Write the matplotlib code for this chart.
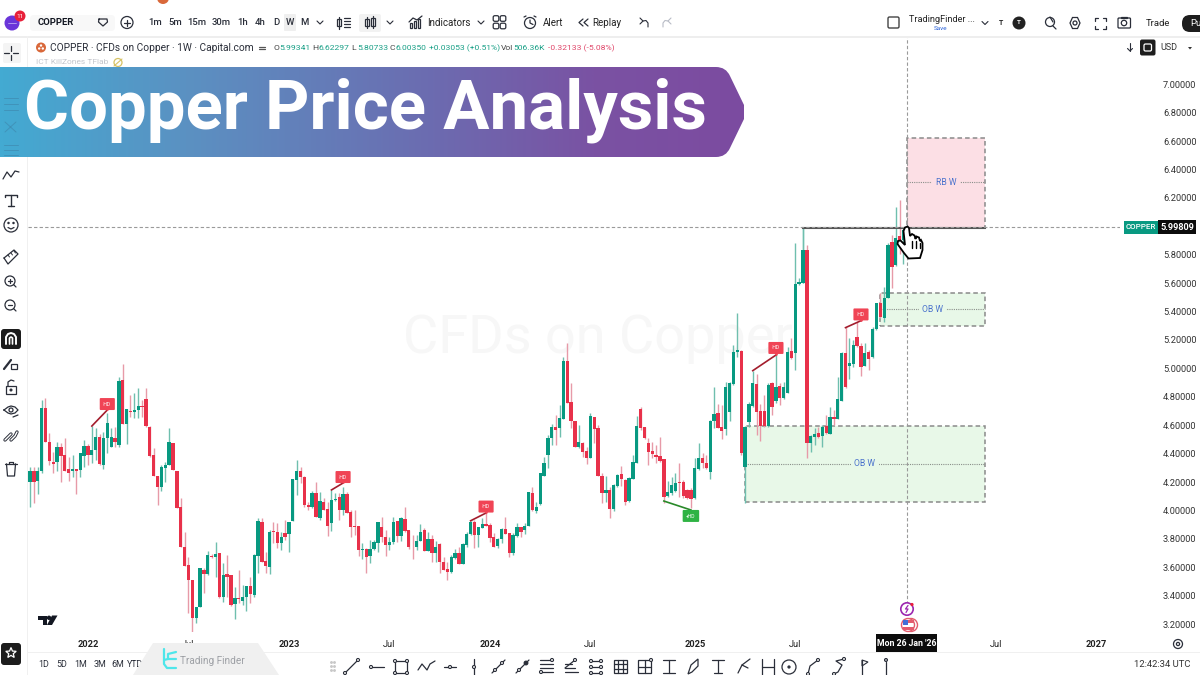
import numpy as np
import pandas as pd
import matplotlib
matplotlib.use("Agg")
import matplotlib.pyplot as plt
import matplotlib.dates as mdates
from matplotlib.patches import Rectangle, Circle, Polygon, PathPatch, FancyBboxPatch
from matplotlib.path import Path

plt.rcParams["font.family"] = ["Roboto", "DejaVu Sans"]

# weekly candles
opens = [
    4.203, 4.280, 4.208, 4.278, 4.724, 4.485, 4.344, 4.339, 4.449, 4.391,
    4.290, 4.280, 4.290, 4.285, 4.384, 4.454, 4.391, 4.426, 4.515, 4.320,
    4.508, 4.449, 4.510, 4.461, 4.919, 4.609, 4.703, 4.691, 4.708, 4.738,
    4.783, 4.590, 4.391, 4.243, 4.163, 4.297, 4.320, 4.478, 4.280, 4.027,
    3.745, 3.619, 3.511, 3.243, 3.323, 3.581, 3.553, 3.682, 3.670, 3.698,
    3.389, 3.553, 3.546, 3.342, 3.381, 3.365, 3.393, 3.468, 3.405, 3.682,
    3.921, 3.644, 3.600, 3.856, 3.851, 3.769, 3.844, 3.834, 3.926, 4.215,
    4.280, 4.238, 4.041, 4.027, 4.121, 3.945, 4.062, 4.010, 3.910, 4.074,
    4.093, 4.003, 4.114, 3.992, 3.893, 3.891, 3.722, 3.729, 3.680, 3.729,
    3.773, 3.884, 3.816, 3.757, 3.776, 3.928, 3.820, 3.938, 3.863, 3.745,
    3.741, 3.788, 3.863, 3.712, 3.797, 3.698, 3.764, 3.637, 3.590, 3.569,
    3.663, 3.698, 3.623, 3.757, 3.832, 3.919, 3.827, 3.879, 3.905, 3.900,
    3.811, 3.752, 3.799, 3.870, 3.839, 3.698, 3.820, 3.884, 3.860, 3.891,
    4.121, 3.994, 4.046, 4.243, 4.393, 4.508, 4.585, 4.578, 4.642, 5.053,
    4.762, 4.632, 4.449, 4.478, 4.419, 4.367, 4.656, 4.578, 4.243, 4.126,
    4.144, 4.008, 4.175, 4.255, 4.215, 4.067, 4.219, 4.337, 4.712, 4.590,
    4.478, 4.419, 4.391, 4.384, 4.360, 4.102, 4.121, 4.140, 4.203, 4.203,
    4.144, 4.144, 4.086, 4.290, 4.367, 4.337, 4.273, 4.630, 4.684, 4.590,
    4.574, 4.696, 4.891, 5.118, 5.125, 4.304, 4.625, 4.736, 4.891, 4.700,
    4.700, 4.595, 4.895, 4.771, 4.877, 4.790, 4.830, 5.125, 5.111, 5.595,
    5.599, 5.834, 4.478, 4.515, 4.543, 4.524, 4.595, 4.539, 4.661, 4.647,
    4.773, 5.111, 5.017, 5.029, 5.224, 5.158, 5.017, 5.118, 5.083, 5.278,
    5.459, 5.353, 5.498, 5.893, 5.728, 5.933, 5.905, 5.886,
]
closes = [
    4.280, 4.203, 4.280, 4.724, 4.480, 4.348, 4.325, 4.447, 4.384, 4.280,
    4.266, 4.290, 4.280, 4.402, 4.454, 4.391, 4.426, 4.515, 4.325, 4.508,
    4.618, 4.515, 4.485, 4.914, 4.609, 4.712, 4.691, 4.708, 4.736, 4.731,
    4.595, 4.384, 4.243, 4.163, 4.304, 4.320, 4.480, 4.285, 4.015, 3.741,
    3.609, 3.511, 3.243, 3.323, 3.593, 3.553, 3.687, 3.675, 3.694, 3.393,
    3.548, 3.534, 3.335, 3.381, 3.374, 3.393, 3.468, 3.412, 3.687, 3.926,
    3.640, 3.611, 3.851, 3.851, 3.769, 3.811, 3.816, 3.921, 4.219, 4.280,
    4.233, 4.039, 4.022, 4.126, 3.952, 4.069, 4.003, 3.893, 4.074, 4.081,
    4.003, 4.116, 3.980, 3.886, 3.886, 3.722, 3.729, 3.675, 3.731, 3.780,
    3.917, 3.811, 3.757, 3.780, 3.921, 3.820, 3.945, 3.858, 3.741, 3.741,
    3.785, 3.849, 3.712, 3.797, 3.698, 3.741, 3.640, 3.581, 3.569, 3.670,
    3.698, 3.623, 3.764, 3.834, 3.919, 3.827, 3.881, 3.905, 3.893, 3.809,
    3.745, 3.799, 3.870, 3.834, 3.698, 3.827, 3.886, 3.851, 3.891, 4.128,
    4.003, 4.022, 4.262, 4.337, 4.513, 4.585, 4.567, 4.649, 5.053, 4.754,
    4.632, 4.449, 4.485, 4.414, 4.367, 4.665, 4.574, 4.243, 4.121, 4.144,
    4.008, 4.180, 4.250, 4.219, 4.062, 4.226, 4.341, 4.595, 4.578, 4.508,
    4.414, 4.398, 4.374, 4.351, 4.097, 4.128, 4.179, 4.196, 4.196, 4.102,
    4.086, 4.079, 4.297, 4.367, 4.332, 4.297, 4.630, 4.679, 4.583, 4.560,
    4.872, 4.895, 5.118, 5.130, 4.407, 4.590, 4.747, 4.900, 4.696, 4.595,
    4.595, 4.884, 4.726, 4.872, 4.790, 4.872, 5.118, 5.071, 5.595, 5.611,
    5.834, 4.473, 4.524, 4.539, 4.520, 4.590, 4.543, 4.661, 4.642, 4.783,
    5.107, 4.872, 5.036, 5.163, 5.158, 5.013, 5.111, 5.064, 5.275, 5.459,
    5.365, 5.494, 5.869, 5.717, 5.916, 5.893, 5.975, 5.998,
]
highs = [
    4.304, 4.309, 4.304, 4.778, 4.790, 4.543, 4.414, 4.485, 4.473, 4.508,
    4.374, 4.391, 4.290, 4.402, 4.496, 4.466, 4.595, 4.578, 4.539, 4.555,
    4.689, 4.578, 4.590, 4.942, 5.031, 4.712, 4.811, 4.825, 4.860, 4.778,
    4.860, 4.595, 4.438, 4.243, 4.320, 4.344, 4.578, 4.478, 4.280, 4.086,
    3.846, 3.675, 3.511, 3.323, 3.593, 3.593, 3.715, 3.694, 3.780, 3.698,
    3.628, 3.687, 3.546, 3.464, 3.581, 3.475, 3.468, 3.534, 3.694, 3.945,
    3.945, 3.710, 3.863, 3.921, 3.910, 3.851, 3.933, 3.921, 4.219, 4.355,
    4.304, 4.243, 4.062, 4.135, 4.203, 4.133, 4.086, 4.062, 4.144, 4.126,
    4.121, 4.168, 4.133, 4.003, 4.003, 3.891, 3.769, 3.734, 3.792, 3.792,
    3.921, 3.956, 3.863, 3.816, 3.956, 3.928, 3.956, 4.027, 3.863, 3.827,
    3.827, 3.905, 3.874, 3.851, 3.827, 3.785, 3.769, 3.675, 3.640, 3.687,
    3.727, 3.745, 3.769, 3.851, 3.928, 3.933, 3.886, 3.945, 3.980, 3.910,
    3.844, 3.804, 3.874, 3.956, 3.844, 3.839, 3.914, 3.886, 3.910, 4.133,
    4.168, 4.062, 4.266, 4.374, 4.532, 4.609, 4.672, 4.743, 5.078, 5.179,
    4.895, 4.632, 4.602, 4.485, 4.445, 4.689, 4.661, 4.602, 4.266, 4.243,
    4.168, 4.184, 4.257, 4.313, 4.219, 4.238, 4.391, 4.665, 4.731, 4.590,
    4.508, 4.485, 4.461, 4.515, 4.360, 4.210, 4.238, 4.262, 4.337, 4.215,
    4.149, 4.156, 4.367, 4.478, 4.407, 4.391, 4.637, 4.872, 4.750, 4.743,
    4.907, 4.902, 5.165, 5.393, 5.130, 4.595, 4.766, 4.984, 4.961, 4.750,
    4.813, 4.895, 4.907, 5.177, 4.895, 4.907, 5.154, 5.212, 5.881, 5.635,
    5.987, 5.869, 4.531, 4.579, 4.590, 4.602, 4.672, 4.731, 4.708, 4.942,
    5.118, 5.294, 5.212, 5.200, 5.330, 5.177, 5.177, 5.130, 5.294, 5.463,
    5.534, 5.571, 5.881, 5.940, 6.134, 6.186, 5.998, 6.010,
]
lows = [
    4.022, 4.055, 4.114, 4.262, 4.480, 4.320, 4.266, 4.280, 4.201, 4.280,
    4.210, 4.238, 4.116, 4.233, 4.309, 4.320, 4.332, 4.355, 4.320, 4.290,
    4.402, 4.449, 4.449, 4.449, 4.609, 4.468, 4.661, 4.649, 4.649, 4.661,
    4.590, 4.379, 4.243, 4.039, 4.140, 4.203, 4.320, 4.285, 4.015, 3.741,
    3.609, 3.276, 3.135, 3.205, 3.323, 3.421, 3.546, 3.663, 3.534, 3.381,
    3.358, 3.393, 3.327, 3.238, 3.346, 3.335, 3.295, 3.346, 3.393, 3.557,
    3.635, 3.557, 3.553, 3.769, 3.734, 3.722, 3.792, 3.710, 3.926, 4.109,
    4.191, 4.027, 4.003, 4.015, 3.952, 3.933, 4.003, 3.820, 3.856, 4.069,
    3.933, 3.968, 3.980, 3.816, 3.827, 3.682, 3.656, 3.557, 3.633, 3.722,
    3.710, 3.780, 3.680, 3.722, 3.764, 3.780, 3.787, 3.851, 3.729, 3.656,
    3.722, 3.788, 3.712, 3.712, 3.640, 3.637, 3.562, 3.581, 3.511, 3.557,
    3.656, 3.623, 3.623, 3.745, 3.827, 3.734, 3.745, 3.879, 3.893, 3.780,
    3.745, 3.734, 3.769, 3.834, 3.675, 3.687, 3.811, 3.816, 3.834, 3.891,
    3.999, 3.980, 4.039, 4.243, 4.297, 4.461, 4.461, 4.515, 4.642, 4.754,
    4.578, 4.449, 4.438, 4.374, 4.327, 4.367, 4.478, 4.243, 4.050, 4.062,
    3.949, 3.999, 4.168, 4.172, 4.039, 4.062, 4.219, 4.337, 4.567, 4.501,
    4.320, 4.367, 4.332, 4.344, 4.050, 4.097, 4.109, 4.133, 4.097, 4.086,
    4.079, 4.015, 4.079, 4.285, 4.297, 4.290, 4.219, 4.578, 4.583, 4.501,
    4.531, 4.632, 4.884, 5.083, 4.391, 4.055, 4.590, 4.731, 4.531, 4.492,
    4.590, 4.590, 4.672, 4.754, 4.743, 4.783, 4.825, 5.064, 4.989, 5.588,
    5.599, 4.367, 4.414, 4.461, 4.508, 4.449, 4.539, 4.539, 4.602, 4.642,
    4.773, 4.860, 4.923, 5.013, 5.154, 4.947, 5.017, 4.989, 5.071, 5.271,
    5.353, 5.330, 5.494, 5.564, 5.721, 5.806, 5.733, 5.881,
]

# 6.00000 sits under the last price tag, so it gets no label
price_ticks = [3.2, 3.4, 3.6, 3.8, 4.0, 4.2, 4.4, 4.6, 4.8, 5.0, 5.2, 5.4, 5.6, 5.8, 6.2, 6.4, 6.6, 6.8, 7.0]
date_ticks = ["2022-01-03", "2022-07-04", "2023-01-02", "2023-07-03", "2024-01-01", "2024-07-01",
              "2025-01-06", "2025-07-07", "2026-07-06", "2027-01-04"]
date_labels = ["2022", "Jul", "2023", "Jul", "2024", "Jul", "2025", "Jul", "Jul", "2027"]

# zones: label, first bar, top, mid, bottom
zone_labels = ["RB W", "OB W", "OB W"]
zone_first_bar = [227, 220, 185]
zone_tops = [6.62, 5.533, 4.596]
zone_mids = [6.31, 5.417, 4.327]
zone_bottoms = [5.99, 5.300, 4.059]
zone_end_date = "2026-06-15"
swing_level = 5.987
swing_first_bar = 200
last_price = 5.99809

# small structure tags: line start, line end, label
tag_texts = ["-HD", "-HD", "-HD", "-HD", "-HD", "+HD"]
tag_bar0 = [16, 78, 114, 187, 211, 164]
tag_price0 = [4.594, 4.144, 3.927, 4.984, 5.287, 4.066]
tag_bar1 = [20, 81, 118, 193, 215, 171]
tag_price1 = [4.707, 4.193, 3.982, 5.094, 5.336, 4.003]
tag_box_price = [4.749, 4.235, 4.027, 5.144, 5.380, 3.961]

GREEN = "#089981"
RED = "#e8314a"
ICON = "#2a2e39"

fig = plt.figure(figsize=(12, 6.75), dpi=100, facecolor="white")

# chart
ax = fig.add_axes([28 / 1200, 43 / 675, 1092 / 1200, 596 / 675])
dates = pd.date_range(end="2026-01-26", periods=len(opens), freq="7D")
x = mdates.date2num(dates)
o, h, l, c = map(np.array, (opens, highs, lows, closes))
up = c >= o
week_px = 3.865
ax.set_xlim(x[0] + 7 * (28 - 30) / week_px, x[0] + 7 * (1120 - 30) / week_px)
ax.set_ylim(3.1437, 7.3408)
for s in ax.spines.values():
    s.set_visible(False)

ax.text(x[147], 5.21, "CFDs on Copper", fontsize=39, color="#f7f7f7", ha="center", va="center", zorder=0)

for name, first, top, mid, bot in zip(zone_labels, zone_first_bar, zone_tops, zone_mids, zone_bottoms):
    end = mdates.date2num(pd.Timestamp(zone_end_date))
    fill = "#fcdfe5" if name == "RB W" else "#e8f8e8"
    ax.add_patch(Rectangle((x[first], bot), end - x[first], top - bot, facecolor=fill, edgecolor="#8a8a8a",
                           lw=1.1, ls=(0, (3, 2)), zorder=1))
    ax.plot([x[first], end], [mid, mid], color="#8a8f8a", lw=0.8, ls=(0, (1, 1)), zorder=1.5)
    ax.text((x[first] + end) / 2, mid, name, fontsize=6.2, color="#4a72cc", ha="center", va="center", zorder=1.6,
            bbox=dict(facecolor=fill, edgecolor="none", pad=2.5))

ax.vlines(x[up], l[up], h[up], color="#6fbfae", lw=1, zorder=2)
ax.vlines(x[~up], l[~up], h[~up], color="#e79aa8", lw=1, zorder=2)
ax.bar(x, np.abs(c - o), bottom=np.minimum(o, c), width=6.0, color=np.where(up, GREEN, RED), lw=0, zorder=3)

ax.plot([x[swing_first_bar], mdates.date2num(pd.Timestamp(zone_end_date))], [swing_level, swing_level],
        color="#555555", lw=1.5, zorder=4)
ax.vlines(x[swing_first_bar], 5.6, swing_level, color="#6fbfae", lw=1, zorder=2)

for txt_, b0, p0, b1, p1, pb in zip(tag_texts, tag_bar0, tag_price0, tag_bar1, tag_price1, tag_box_price):
    col = "#2fb344" if txt_[0] == "+" else "#f04455"
    ax.plot([x[b0], x[b1]], [p0, p1], color="#2a8a2a" if txt_[0] == "+" else "#a31d2d", lw=1.2, zorder=4)
    ax.plot(x[b1], (p1 + pb) / 2, marker="v" if txt_[0] == "-" else "^", ms=4, color=col, zorder=4)
    ax.text(x[b1], pb, txt_, fontsize=3.6, color="white", ha="center", va="center", zorder=5,
            bbox=dict(boxstyle="round,pad=0.7,rounding_size=0.2", facecolor=col, edgecolor="none"))

ax.axhline(last_price, color="#9a9a9a", lw=0.8, ls=(0, (3, 2)), zorder=6)
ax.axvline(x[-1] - 0.6, color="#9a9a9a", lw=0.8, ls=(0, (3, 2)), zorder=6)

ax.yaxis.tick_right()
ax.set_yticks(price_ticks)
ax.set_yticklabels([f"{p:.5f}" for p in price_ticks], fontsize=6.7, color="#333333")
ax.tick_params(axis="y", length=0, pad=31)
ax.set_xticks(mdates.date2num(pd.to_datetime(date_ticks)))
ax.set_xticklabels(date_labels, fontsize=6.7, color="#222222")
for lab, name in zip(ax.get_xticklabels(), date_labels):
    if name != "Jul":
        lab.set_fontweight("bold")
ax.tick_params(axis="x", length=0, pad=6)

# everything else lives on a pixel overlay
ov = fig.add_axes([0, 0, 1, 1], facecolor="none", zorder=10)
ov.set_xlim(0, 1200)
ov.set_ylim(675, 0)
ov.axis("off")


def ln(xs, ys, color=ICON, lw=0.9, **kw):
    ov.plot(xs, ys, color=color, lw=lw, solid_capstyle="round", **kw)


def circ(cx, cy, r, fc="none", ec=ICON, lw=0.9, **kw):
    ov.add_patch(Circle((cx, cy), r, facecolor=fc, edgecolor=ec, lw=lw, **kw))


def box(x0, y0, w, h, fc="none", ec=ICON, lw=0.9, r=0.0):
    if r:
        ov.add_patch(FancyBboxPatch((x0 + r, y0 + r), w - 2 * r, h - 2 * r, boxstyle=f"round,pad={r}",
                                    facecolor=fc, edgecolor=ec, lw=lw))
    else:
        ov.add_patch(Rectangle((x0, y0), w, h, facecolor=fc, edgecolor=ec, lw=lw))


def txt(px, py, s, size=6.7, color="#222222", ha="left", weight="normal", **kw):
    ov.text(px, py, s, fontsize=size, color=color, ha=ha, va="center", fontweight=weight, **kw)


def chevron(cx, cy):
    ln([cx - 3, cx, cx + 3], [cy - 1.5, cy + 1.5, cy - 1.5], lw=0.8)


# panel frames
box(0, 36, 1200, 1.6, fc="#eeeeee", ec="none")
box(26.5, 36, 1.6, 639, fc="#f0f0f0", ec="none")
box(28, 651.5, 1172, 1.5, fc="#f0f0f0", ec="none")
circ(163, -2, 6, fc="#d9683a", ec="none")

# top toolbar
circ(12, 23, 7.5, fc="#6a35d9", ec="none")
ln([8, 16], [23, 23], color="#b9a6f0", lw=0.6)
circ(20, 16, 5.5, fc="#e8203a", ec="none")
txt(20, 16, "11", size=4.6, color="white", ha="center")
box(30, 15, 85, 16, fc="#f8f8f8", ec="none", r=4)
txt(38, 22.5, "COPPER", size=6.8, weight="bold", color="#131722")
ln([99, 107, 107.5, 103, 98.5, 99], [19, 19, 22, 26, 22, 19])
circ(127, 22.5, 6)
ln([124, 130], [22.5, 22.5])
ln([127, 127], [19.5, 25.5])
for px, s in zip([155, 175, 197, 221, 243, 260, 276, 290, 304],
                 ["1m", "5m", "15m", "30m", "1h", "4h", "D", "W", "M"]):
    if s == "W":
        box(284, 14, 12, 17, fc="#efefef", ec="none", r=1)
    txt(px, 22.5, s, size=6.8, ha="center", color="#2a2e39", weight="medium")
chevron(320, 22.5)
ln([339, 339], [17, 29])
box(337, 19, 4, 7, ec=ICON)
for yy in [18, 21, 24, 27]:
    ln([344, 350], [yy, yy])
box(359, 14, 22, 18, fc="#f2f2f2", ec="none", r=2)
for px, top, bot in [(367, 19, 26), (373, 18, 26)]:
    ln([px, px], [top - 2, bot + 2])
    box(px - 1.8, top, 3.6, bot - top, fc="white")
chevron(390, 22.5)
ln([409, 413, 417, 422], [22, 18, 20, 16])
for px, hh in [(411, 5), (415, 7), (419, 9)]:
    box(px - 1.3, 28 - hh, 2.6, hh)
txt(427, 22.5, "Indicators", size=7)
chevron(481, 22.5)
for px in (496, 503):
    for py in (18.5, 26):
        box(px - 2.8, py - 2.8, 5.6, 5.6, r=1.6)
circ(530, 23, 5.5)
ln([530, 530, 533], [20, 23, 24.5])
ln([524, 526], [17, 16])
ln([536, 534], [17, 16])
txt(543, 22.5, "Alert", size=7)
ln([583, 579, 583], [19, 22.5, 26])
ln([588, 584, 588], [19, 22.5, 26])
txt(592, 22.5, "Replay", size=7)
ln([640, 643, 640], [24, 21, 18][::-1], lw=0.8)
ln([643, 646, 648, 648], [21, 20.5, 23, 27], lw=0.8)
ln([671, 668, 671], [18, 21, 24][::-1], color="#b8bcc6", lw=0.8)
ln([668, 665, 663, 663], [21, 20.5, 23, 27], color="#b8bcc6", lw=0.8)
box(888, 17, 11, 11, ec="#444444", lw=1, r=1.5)
txt(909, 19.5, "TradingFinder ...", size=6.6, color="#222222")
txt(941, 28.5, "Save", size=4.6, color="#2a62d8", ha="center")
chevron(985, 23)
txt(1001, 23, "T", size=5, ha="center", weight="bold")
circ(1019, 23, 6.5, fc="#222222", ec="none")
txt(1019, 23, "T", size=4.5, color="white", ha="center", weight="bold")
circ(1050, 22, 4.5)
ln([1053, 1056], [26, 29])
ln([1050, 1053], [17, 22])
ov.add_patch(Polygon([(1070, 23), (1072.5, 17.5), (1077.5, 17.5), (1080, 23), (1077.5, 28.5), (1072.5, 28.5)],
                     facecolor="none", edgecolor=ICON, lw=0.9))
circ(1075, 23, 2)
for sx, sy in [(1, 1), (1, -1), (-1, 1), (-1, -1)]:
    ln([1100 + sx * 5.5, 1100 + sx * 5.5, 1100 + sx * 2.5], [23 + sy * 2.5, 23 + sy * 5.5, 23 + sy * 5.5])
box(1118, 18, 12.5, 10, r=1)
circ(1124, 23, 2.7)
box(1121, 16.5, 6, 1.5, ec=ICON)
txt(1158, 23, "Trade", size=6.8, ha="center")
box(1182, 15, 30, 17, fc="#1d1d1d", ec="none", r=8)
txt(1190, 23.5, "Pu", size=6.8, color="white")

# legend row
circ(41, 47.5, 5, fc="#d9683a", ec="none")
for ddx, ddy in [(-1.8, 1), (1.8, 1), (0, -2)]:
    circ(41 + ddx, 47.5 + ddy, 1.2, fc="white", ec="none")
txt(50, 48, "COPPER · CFDs on Copper · 1W · Capital.com", size=7.3, color="#2a2e39")
ln([259, 265], [46.5, 46.5], color="#555555")
ln([259, 265], [49, 49], color="#555555")
LEG_G = "#1aa087"
for px, key, val in [(273, "O", "5.99341"), (312.5, "H", "6.62297"), (351.5, "L", "5.80733"), (390, "C", "6.00350")]:
    txt(px, 48, key, size=6.1, color="#444444")
    txt(px + 6, 48, val, size=6.1, color=LEG_G)
txt(429, 48, "+0.03053 (+0.51%)", size=6.1, color=LEG_G)
txt(501, 48, "Vol", size=6.1, color="#444444")
txt(513, 48, "506.36K", size=6.1, color=LEG_G)
txt(548.5, 48, "-0.32133 (-5.08%)", size=6.1, color="#e0476a")
txt(36, 62.5, "ICT KillZones TFlab", size=6, color="#c4c6cc")
circ(118, 62.5, 4, ec="#d6c265")
ln([114, 122], [66, 59], color="#d6c265", lw=0.8)

ln([1130, 1130], [43, 51], lw=0.8)
ln([1127.5, 1130, 1132.5], [48.5, 51, 48.5], lw=0.8)
box(1140, 39.5, 15.5, 16, fc="#1d1d1d", ec="none", r=2)
box(1144, 44, 7.5, 7, ec="white", r=1.5)
txt(1169, 48, "USD", size=6.5, ha="center", color="#333333")
ov.add_patch(Polygon([(1188, 47), (1192, 47), (1190, 49.5)], facecolor="#333333"))

# gradient banner
banner = Path([(0, 67), (716, 67), (726, 67), (730, 76), (744, 105), (744, 112), (744, 119), (730, 148),
               (726, 157), (716, 157), (0, 157), (0, 67)],
              [Path.MOVETO, Path.LINETO, Path.CURVE3, Path.CURVE3, Path.LINETO, Path.CURVE3, Path.CURVE3,
               Path.LINETO, Path.CURVE3, Path.CURVE3, Path.LINETO, Path.CLOSEPOLY])
cmap = matplotlib.colors.LinearSegmentedColormap.from_list(
    "banner", [(0, "#43aad2"), (0.25, "#5b91c2"), (0.55, "#6a6fb2"), (0.8, "#7a52a3"), (1, "#7c4ba0")])
img = ov.imshow(np.linspace(0, 1, 400).reshape(1, -1), cmap=cmap, extent=(0, 744, 157, 67), aspect="auto", zorder=5)
patch = PathPatch(banner, facecolor="none", edgecolor="none", transform=ov.transData)
ov.add_patch(patch)
img.set_clip_path(patch)
ov.set_xlim(0, 1200)
ov.set_ylim(675, 0)
ov.text(24, 110.5, "Copper Price Analysis", fontsize=49.6, color="white", fontweight="bold", va="center", ha="left",
        zorder=6)
for yy in (98, 104, 110):
    ln([4, 18], [yy, yy], color="#3d7ea3", lw=0.7, zorder=5.5, alpha=0.5)
ln([5, 16], [122, 132], color="#3d7ea3", lw=0.7, zorder=5.5, alpha=0.5)
ln([5, 16], [132, 122], color="#3d7ea3", lw=0.7, zorder=5.5, alpha=0.5)
for yy in (145, 150, 155):
    ln([4, 18], [yy, yy], color="#3d7ea3", lw=0.7, zorder=5.5, alpha=0.5)

# left toolbar
box(3, 43, 18, 20, fc="#f4f4f4", ec="none", r=2)
ln([4, 9], [53, 53])
ln([13, 18], [53, 53])
ln([11, 11], [46, 51])
ln([11, 11], [55, 60])
ln([3, 7, 11, 15, 19], [179, 172, 177, 171, 172])
ln([5, 5, 17, 17], [197, 195, 195, 197], lw=1)
ln([11, 11], [195, 206], lw=1)
ln([8, 14], [206, 206], lw=1)
circ(11, 225, 7)
circ(8.5, 223, 0.6, fc=ICON)
circ(13.5, 223, 0.6, fc=ICON)
ln([8, 11, 14], [227.5, 229, 227.5])
ln([4, 14, 18, 8, 4], [258, 250, 254, 264, 258])
for i in range(3):
    ln([8 + 3 * i, 9.5 + 3 * i], [255 - 2 * i, 257 - 2 * i], lw=0.7)
for cy, sign in [(282, "+"), (306, "-")]:
    circ(10, cy - 1, 5)
    ln([13.5, 16], [cy + 2.5, cy + 5])
    ln([8, 12], [cy - 1, cy - 1])
    if sign == "+":
        ln([10, 10], [cy - 3, cy + 1])
box(1, 329, 20, 20, fc="#1d1d1d", ec="none", r=3)
ln([6, 6, 8, 11, 14, 16, 16], [344, 337, 334, 333, 334, 337, 344], color="white", lw=1.4)
ln([9.5, 9.5, 11, 12.5, 12.5], [344, 338, 337, 338, 344], color="white", lw=1.2)
ln([4, 11], [369, 360], lw=1.6)
box(11, 364, 6, 5)
box(6, 386, 10, 8)
ln([8, 8, 11, 14], [386, 382, 380, 381])
circ(11, 390, 0.9, fc=ICON)
ov.plot([4, 8, 11, 15, 18, 15, 11, 8, 4], [410, 407, 406, 407, 410, 413, 414, 413, 410], color=ICON, lw=0.9)
circ(11, 410, 2)
ln([13, 18], [417, 415])
ln([5, 9, 11], [440, 436, 434], lw=2.4)
ln([5, 9, 11], [440, 436, 434], color="white", lw=1)
ln([11, 15, 17], [440, 436, 432], lw=2.4)
ln([11, 15, 17], [440, 436, 432], color="white", lw=1)
ln([5, 17], [464, 464])
ln([9, 9, 13, 13], [464, 462, 462, 464])
ov.plot([6.5, 7.5, 14.5, 15.5], [464, 476, 476, 464], color=ICON, lw=0.9)
box(1, 643, 20, 22, fc="#1d1d1d", ec="none", r=3)
star = [(11 + (5.5 if i % 2 == 0 else 2.4) * np.sin(i * np.pi / 5),
         653 - (5.5 if i % 2 == 0 else 2.4) * np.cos(i * np.pi / 5)) for i in range(10)]
ov.add_patch(Polygon(star, facecolor="none", edgecolor="white", lw=0.9))

# price tag and crosshair date
box(1124, 220.5, 34, 13, fc=GREEN, ec="none")
txt(1141, 227, "COPPER", size=5.8, color="white", ha="center", weight="medium")
box(1158, 220, 38, 14, fc="#0c0c0c", ec="none")
txt(1177, 227, "5.99809", size=6.6, color="white", ha="center", weight="bold")
box(876, 634, 61, 17.5, fc="#0c0c0c", ec="none")
txt(906.5, 643, "Mon 26 Jan '26", size=6.3, color="white", ha="center", weight="bold")

# events under the cursor line
circ(907, 609, 6.2, fc="white", ec="#9c27b0", lw=1.2)
ln([908, 905.5, 908, 906], [605.5, 609, 609, 612.5], color="#9c27b0", lw=0.9)
circ(912, 604.5, 1.6, fc="#e8203a", ec="none")
circ(911, 625, 6.5, fc="white", ec="#e35b6d", lw=1)
circ(908, 625, 6.5, fc="white", ec="#e35b6d", lw=1)
box(902.5, 620, 11, 3, fc="#e35b6d", ec="none")
box(902.5, 627, 11, 3, fc="#e35b6d", ec="none")
box(903, 620, 4.5, 4.5, fc="#3f6fd8", ec="none")

# hand pointer
hand = [(903.5, 231), (905, 227.5), (907.5, 226.5), (909, 228), (910, 236), (912, 234), (914.5, 235.5), (915.5, 239),
        (916.5, 236.5), (919, 237.5), (920, 241), (921, 240), (922.5, 243), (922.5, 250), (920, 258), (908.5, 258.5),
        (904, 253), (897.5, 244), (898, 241), (900.5, 240.5), (905, 245)]
ov.add_patch(Polygon(hand, closed=True, facecolor="white", edgecolor="black", lw=1.3, zorder=7))
for xa, ya, yb in [(911.5, 241, 248), (915.5, 241, 248), (919.5, 243, 248)]:
    ln([xa, xa], [ya, yb], color="black", lw=1, zorder=8)

# TV logo
ov.add_patch(Polygon([(38, 615.5), (46.5, 615.5), (46.5, 625), (42.5, 625), (42.5, 620), (38, 620)], facecolor="#131722"))
circ(49, 617.8, 2.2, fc="#131722", ec="none")
ov.add_patch(Polygon([(52, 615.5), (57.5, 615.5), (52, 625), (47, 625)], facecolor="#131722"))

# gear
circ(1178, 644, 4.5)
circ(1178, 644, 1.6)

# bottom bar
for px, s in zip([44, 62, 81, 100, 118, 135], ["1D", "5D", "1M", "3M", "6M", "YTD"]):
    txt(px, 664.5, s, size=6.4, ha="center", color="#2a2e39", zorder=2)
ov.add_patch(Polygon([(153, 643), (258, 643), (279, 675), (133, 675)], facecolor="#f0f0f0", edgecolor="none", zorder=3))
ln([164, 164, 167, 176], [649, 664, 668, 668], color="#4fe6ea", lw=1.6, zorder=4)
ln([164, 168, 176], [660, 659, 659], color="#4fe6ea", lw=1.6, zorder=4)
ln([168, 168, 176], [659, 654, 652], color="#4fe6ea", lw=1.6, zorder=4)
ov.text(180, 660.5, "Trading Finder", fontsize=7.2, color="#9da0a5", va="center", zorder=4)
for py in (662, 666, 670):
    ln([331, 331], [py, py], color="#c8c8c8", marker="o", ms=0.8)
    ln([334, 334], [py, py], color="#c8c8c8", marker="o", ms=0.8)


def nub(px, py):
    circ(px, py, 1.5, fc="white", lw=0.8, zorder=4)


ln([345, 358], [673, 660])
nub(345, 673)
nub(358, 660)
ln([371, 384], [667, 667])
nub(371, 667)
box(395, 661, 12, 12)
for px in (395, 407):
    for py in (661, 673):
        nub(px, py)
ln([418, 422, 427, 430, 435], [670, 664, 670, 664, 661])
ln([444, 456], [667, 667])
nub(450, 667)
ln([474, 474], [659, 675])
nub(474, 667)
ln([492, 505], [673, 660])
nub(495, 670)
nub(502, 663)
ln([516, 529], [673, 660])
nub(519, 670)
circ(526, 663, 1.8, fc=ICON, ec=ICON)
for yy in (660, 664, 668, 672):
    ln([540, 553], [yy, yy])
nub(541, 672)
nub(552, 660)
for i, yy in enumerate((672, 668, 664)):
    ln([565, 578 - i * 3], [yy, yy])
ln([565, 575], [668, 660])
nub(575, 660)
for yy in (661, 667, 673):
    ln([590, 602], [yy, yy])
    nub(591, yy)
    nub(601, yy)
box(614, 660, 13, 13)
for k in (4.3, 8.6):
    ln([614 + k, 614 + k], [660, 673])
    ln([614, 627], [660 + k, 660 + k])
box(638, 660, 13, 13)
ln([644.5, 644.5], [660, 673])
ln([638, 651], [666.5, 666.5])
nub(651, 660)
ln([663, 675], [660, 660])
ln([663, 675], [673, 673])
ln([669, 669], [660, 673])
ov.add_patch(Polygon([(688, 674), (691, 665), (698, 659), (698, 666), (692, 672)], facecolor="none", edgecolor=ICON, lw=0.9))
ln([712, 724], [660, 660])
ln([718, 718], [660, 673])
ln([714, 722], [673, 673])
ln([738, 742, 748], [673, 665, 668])
ln([742, 750], [665, 659])
ln([762, 762], [659, 675])
ln([774, 774], [659, 675])
ln([762, 774], [667, 667])
circ(789, 667, 7)
circ(789, 667, 1, fc=ICON)
ln([808, 810, 818], [674, 666, 660])
nub(808, 674)
nub(818, 660)
ln([834, 838, 842, 836, 844], [674, 672, 665, 661, 659])
nub(834, 674)
nub(844, 659)
ln([862, 862], [660, 675])
ov.add_patch(Polygon([(862, 660), (868, 662), (862, 666)], facecolor="none", edgecolor=ICON, lw=0.8))
ln([886, 886], [662, 675])
circ(886, 660, 1.4)
txt(1190, 664.5, "12:42:34 UTC", size=6.8, ha="right", color="#333333")

fig.savefig("out.png", dpi=100)
